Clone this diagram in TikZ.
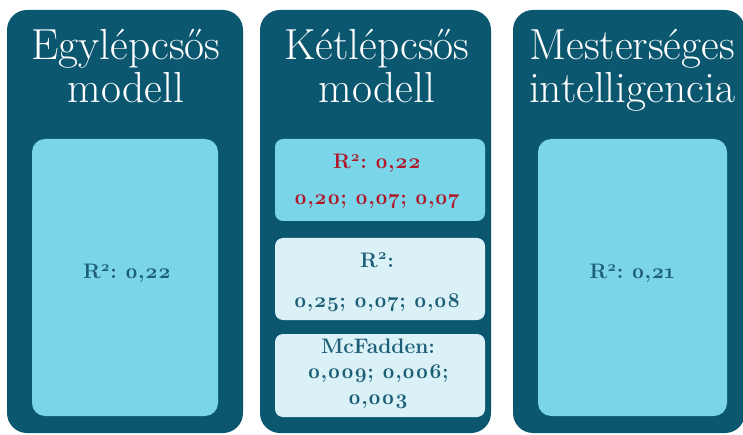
\documentclass[tikz,border=0pt]{standalone}
\usepackage{fontspec}
\setmainfont{Latin Modern Roman}[Numbers=OldStyle]
\definecolor{darkpanel}{HTML}{0C5770}
\definecolor{lightbox}{HTML}{7AD5E8}
\definecolor{paleblue}{HTML}{DBF1F8}
\definecolor{boxtext}{HTML}{1D5E77}
\definecolor{redtext}{HTML}{B0182A}
\tikzset{
  panel/.style={fill=darkpanel, draw=none, rounded corners=20pt, inner sep=0pt},
  bigbox/.style={fill=lightbox, draw=none, rounded corners=13pt, inner sep=0pt},
  smallbox/.style={draw=none, rounded corners=8pt, inner sep=0pt, minimum width=210pt},
  title/.style={text=white, align=center, anchor=base, inner sep=0pt, font=\fontsize{43.5}{43}\selectfont},
  val/.style={text=boxtext, align=center, anchor=base, inner sep=0pt, font=\bfseries\fontsize{21}{36}\selectfont},
}
\begin{document}
\frenchspacing
\begin{tikzpicture}[x=1pt, y=-1pt]
\useasboundingbox (0,0) rectangle (743,435);
\clip (0,0) rectangle (743,435);
\fill[white] (0,0) rectangle (743,435);
% panels
\node[panel, minimum width=236pt, minimum height=423pt] (p1) at (125,221.5) {};
\node[panel, minimum width=231pt, minimum height=423pt] (p2) at (375.5,221.5) {};
\node[panel, minimum width=232pt, minimum height=423pt] (p3) at (629,221.5) {};
% titles (anchor = baseline of last line)
\node[title] (t1) at (126,103) {Egylépcsős\\modell};
\node[title] (t2) at (377,103) {Kétlépcsős\\modell};
\node[title] (t3) at (632,103) {Mesterséges\\intelligencia};
% first panel
\node[bigbox, minimum width=186pt, minimum height=277pt] (b1) at (125,277.5) {};
\node[val] (v1) at (127,279) {R\textsuperscript{2}: 0,22};
% third panel
\node[bigbox, minimum width=189pt, minimum height=277pt] (b3) at (632.5,277.5) {};
\node[val] (v3) at (632,279) {R\textsuperscript{2}: 0,21};
% middle panel
\node[smallbox, fill=lightbox, minimum height=82pt] (s1) at (380,180) {};
\node[val, text=redtext] (w1) at (377,205) {R\textsuperscript{2}: 0,22\\0,20; 0,07; 0,07};
\node[smallbox, fill=paleblue, minimum height=82pt] (s2) at (380,279) {};
\node[val, font=\bfseries\fontsize{21}{40}\selectfont] (w2) at (377,307) {R\textsuperscript{2}:\\0,25; 0,07; 0,08};
\node[smallbox, fill=paleblue, minimum height=83pt] (s3) at (380,375.5) {};
\node[val, font=\bfseries\fontsize{21}{25.5}\selectfont] (w3) at (378,404) {McFadden:\\0,009; 0,006;\\0,003};
\end{tikzpicture}
\end{document}
